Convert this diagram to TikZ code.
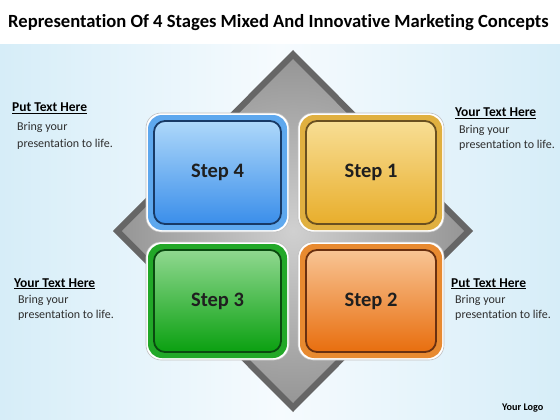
\documentclass[tikz,border=0pt]{standalone}
\usepackage{fontspec}
\setmainfont{Carlito}[Ligatures=NoCommon]
\definecolor{bgblue}{HTML}{D6EDF8}
\definecolor{bgwhite}{HTML}{F6FBFE}
\definecolor{dmdark}{HTML}{666666}
\definecolor{dmlight}{HTML}{D0D0D0}
\definecolor{dmmid}{HTML}{969696}
\definecolor{bluetop}{HTML}{AED8FA}
\definecolor{bluebot}{HTML}{3A8EEA}
\definecolor{blueframe}{HTML}{5EA8EE}
\definecolor{blueline}{HTML}{183A66}
\definecolor{goldtop}{HTML}{F8DE94}
\definecolor{goldbot}{HTML}{E8AE2C}
\definecolor{goldframe}{HTML}{E0B040}
\definecolor{goldline}{HTML}{6A5020}
\definecolor{greentop}{HTML}{90D890}
\definecolor{greenbot}{HTML}{0AA010}
\definecolor{greenframe}{HTML}{22A828}
\definecolor{greenline}{HTML}{0A4A10}
\definecolor{orangetop}{HTML}{F8C494}
\definecolor{orangebot}{HTML}{E86E0E}
\definecolor{orangeframe}{HTML}{E88A30}
\definecolor{orangeline}{HTML}{6A3010}
\definecolor{bodygray}{HTML}{2E2E2E}
\tikzset{
  rim/.style={rounded corners=15pt, fill=white, draw=black!25, line width=0.6pt},
  steplabel/.style={font=\fontsize{20.5}{22}\selectfont\bfseries, text=black!88},
  headtxt/.style={anchor=base west, inner sep=0pt, font=\fontsize{13.5}{15}\selectfont\bfseries},
  bodytxt/.style={anchor=base west, inner sep=0pt, font=\fontsize{12}{14}\selectfont, text=bodygray},
}
\newcommand{\stepbox}[7]{%
  % #1 name, #2 x0, #3 y0, #4 x1, #5 y1, #6 colour prefix, #7 label
  \draw[rim] (#2-2,#3-2) rectangle (#4+2,#5+2);
  \fill[#6frame, rounded corners=14pt] (#2,#3) rectangle (#4,#5);
  \draw[top color=#6top, bottom color=#6bot, draw=#6line, line width=1.8pt, rounded corners=11pt]
    (#2+6,#3+6) rectangle (#4-6,#5-6);
  \node[steplabel] (#1) at ({(#2+#4)/2},{(#3+#5)/2}) {#7};
}
\begin{document}
\begin{tikzpicture}[x=1pt,y=-1pt]
\useasboundingbox (0,0) rectangle (560,420);
% background
\fill[white] (0,0) rectangle (560,420);
\shade[left color=bgblue, right color=bgblue, middle color=bgwhite] (0,45) rectangle (560,420);
% title
\node[anchor=base west, inner sep=0pt, font=\fontsize{18.6}{21}\selectfont\bfseries] (title) at (8,28)
  {Representation Of 4 Stages Mixed And Innovative Marketing Concepts};
% diamond
\fill[dmdark] (293,50) -- (473,231) -- (293,412) -- (113,231) -- cycle;
\shade[inner color=dmlight, outer color=dmmid] (293,59) -- (464,231) -- (293,403) -- (122,231) -- cycle;
% boxes
\stepbox{s4}{148}{115}{287}{230}{blue}{Step 4}
\stepbox{s1}{300}{115}{442}{230}{gold}{Step 1}
\stepbox{s3}{148}{244}{287}{358}{green}{Step 3}
\stepbox{s2}{300}{244}{442}{358}{orange}{Step 2}
% side texts
\node[headtxt] (h4) at (12,112) {\underline{Put Text Here}};
\node[bodytxt] (b4a) at (17,131) {Bring your};
\node[bodytxt] (b4b) at (17,147) {presentation to life.};
\node[headtxt] (h1) at (455,117) {\underline{Your Text Here}};
\node[bodytxt] (b1a) at (459,133) {Bring your};
\node[bodytxt] (b1b) at (459,148) {presentation to life.};
\node[headtxt] (h3) at (14,287) {\underline{Your Text Here}};
\node[bodytxt] (b3a) at (18,303) {Bring your};
\node[bodytxt] (b3b) at (18,318) {presentation to life.};
\node[headtxt] (h2) at (451,287) {\underline{Put Text Here}};
\node[bodytxt] (b2a) at (455,303) {Bring your};
\node[bodytxt] (b2b) at (455,318) {presentation to life.};
% logo
\node[anchor=base west, inner sep=0pt, font=\fontsize{10.2}{12}\selectfont\bfseries] (logo) at (502,410) {Your Logo};
\end{tikzpicture}
\end{document}
